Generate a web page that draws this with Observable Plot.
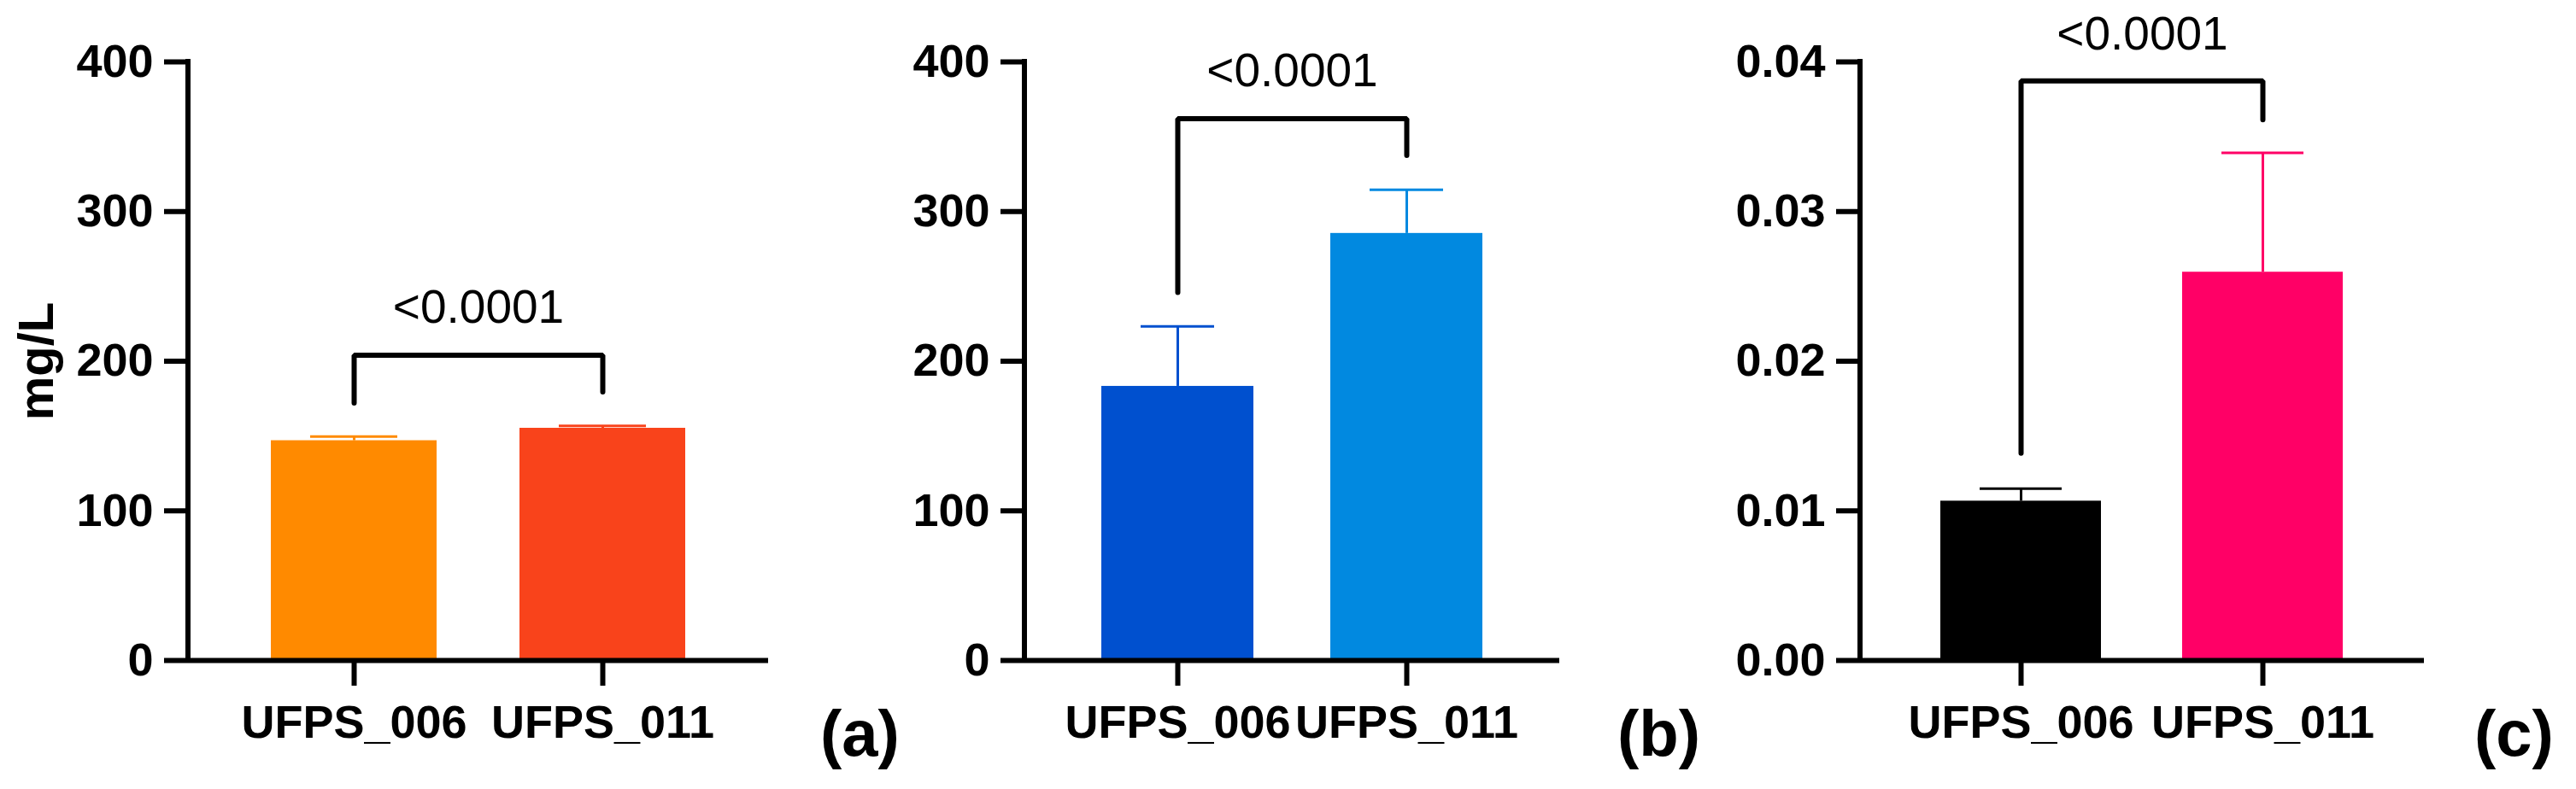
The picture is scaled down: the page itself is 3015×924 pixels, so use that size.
<!DOCTYPE html>
<html><head><meta charset="utf-8">
<script src="https://cdn.jsdelivr.net/npm/d3@7"></script>
<script src="https://cdn.jsdelivr.net/npm/@observablehq/plot@0.6"></script>
<style>
html,body{margin:0;padding:0;background:#fff;}
#fig{position:relative;width:3015px;height:924px;overflow:hidden;font-family:"Liberation Sans",Arial,sans-serif;background:#fff;}
.panel{position:absolute;top:0;z-index:1;}
.plabel{position:absolute;font-weight:bold;font-size:76px;line-height:76px;top:821px;color:#000;z-index:5;}
</style></head><body><div id="fig"></div>
<script>
const categories = ["UFPS_006", "UFPS_011"];
const meanA = [146.9, 155.2];
const errTopA = [149.6, 156.8];
const meanB = [183.2, 285.4];
const errTopB = [223.2, 314.6];
const meanC = [0.01065, 0.02595];
const errTopC = [0.01149, 0.03392];
const colorsA = ["#FF8A00", "#F9431B"];
const colorsB = ["#0050CF", "#0189E0"];
const colorsC = ["#000000", "#FF0066"];
const ticksA = [0, 100, 200, 300, 400];
const ticksB = [0, 100, 200, 300, 400];
const ticksC = [0, 0.01, 0.02, 0.03, 0.04];
const pValues = ["<0.0001", "<0.0001", "<0.0001"];
const pLabelY = [236, 393.7, 0.04184];
const bracketTop = [204, 362, 0.03873];
const bracketLeftEnd = [172, 246, 0.01385];
const bracketRightEnd = [179.5, 337.5, 0.03614];
const panelLabels = ["(a)", "(b)", "(c)"];
const yLabels = ["mg/L", null, null];

const FONT = "Liberation Sans, Arial, sans-serif";
const H = 924, MT = 72, MB = 151;
const layout = [
  {left: 0, width: 1000, ml: 220, mr: 101, fmt: d3.format("d"), labelLeft: 960},
  {left: 1000, width: 1000, ml: 199, mr: 175, fmt: d3.format("d"), labelLeft: 1893},
  {left: 2000, width: 1015, ml: 177, mr: 178, fmt: d3.format(".2f"), labelLeft: 2896}
];
const series = [
  {means: meanA, errs: errTopA, colors: colorsA, ticks: ticksA},
  {means: meanB, errs: errTopB, colors: colorsB, ticks: ticksB},
  {means: meanC, errs: errTopC, colors: colorsC, ticks: ticksC}
];

const fig = document.getElementById("fig");

series.forEach((s, i) => {
  const L = layout[i];
  const rows = categories.map((c, j) => ({cat: c, mean: s.means[j], err: s.errs[j], color: s.colors[j]}));
  const bracket = [
    {cat: categories[0], v: bracketLeftEnd[i]},
    {cat: categories[0], v: bracketTop[i]},
    {cat: categories[1], v: bracketTop[i]},
    {cat: categories[1], v: bracketRightEnd[i]}
  ];
  const yAxisLine = () => {
    const g = d3.create("svg:g");
    g.append("line")
      .attr("x1", L.ml).attr("x2", L.ml)
      .attr("y1", MT - 3).attr("y2", H - MB)
      .attr("stroke", "black").attr("stroke-width", 6);
    return g.node();
  };
  const marks = [
    Plot.barY(rows, {x: "cat", y: "mean", fill: "color"}),
    Plot.ruleX(rows, {x: "cat", y1: "mean", y2: "err", stroke: "color", strokeWidth: 3}),
    Plot.tickY(rows, {x: "cat", y: "err", stroke: "color", strokeWidth: 3, insetLeft: 46, insetRight: 46}),
    Plot.line(bracket, {x: "cat", y: "v", stroke: "black", strokeWidth: 6, strokeLinejoin: "miter", strokeLinecap: "round"}),
    Plot.text([pValues[i]], {y: () => pLabelY[i], text: d => d, frameAnchor: "middle", textAnchor: "middle", lineAnchor: "middle", fontSize: 55, fontWeight: "normal", fill: "black"}),
    Plot.axisY({ticks: s.ticks, tickSize: 28, tickPadding: 13, tickFormat: L.fmt, fontSize: 54, fontWeight: "bold", strokeWidth: 6, label: null}),
    Plot.axisX({tickSize: 30, tickPadding: 22, fontSize: 54, fontWeight: "bold", strokeWidth: 6, label: null}),
    Plot.ruleY([0], {stroke: "black", strokeWidth: 6}),
    yAxisLine
  ];
  if (yLabels[i]) {
    marks.push(Plot.text([yLabels[i]], {text: d => d, frameAnchor: "left", dx: -177, rotate: -90, textAnchor: "middle", lineAnchor: "middle", fontSize: 58, fontWeight: "bold", fill: "black"}));
  }
  const chart = Plot.plot({
    width: L.width,
    height: H,
    marginTop: MT,
    marginBottom: MB,
    marginLeft: L.ml,
    marginRight: L.mr,
    style: {fontFamily: FONT, background: "transparent", color: "black", overflow: "visible"},
    x: {type: "band", domain: categories, paddingInner: 0.335, paddingOuter: 0.332, align: 0.5},
    y: {domain: [0, s.ticks[s.ticks.length - 1]]},
    color: {type: "identity"},
    marks
  });
  const wrap = document.createElement("div");
  wrap.className = "panel";
  wrap.style.left = L.left + "px";
  wrap.appendChild(chart);
  fig.appendChild(wrap);
});

panelLabels.forEach((t, i) => {
  const lab = document.createElement("div");
  lab.className = "plabel";
  lab.style.left = layout[i].labelLeft + "px";
  lab.textContent = t;
  fig.appendChild(lab);
});
</script></body></html>
